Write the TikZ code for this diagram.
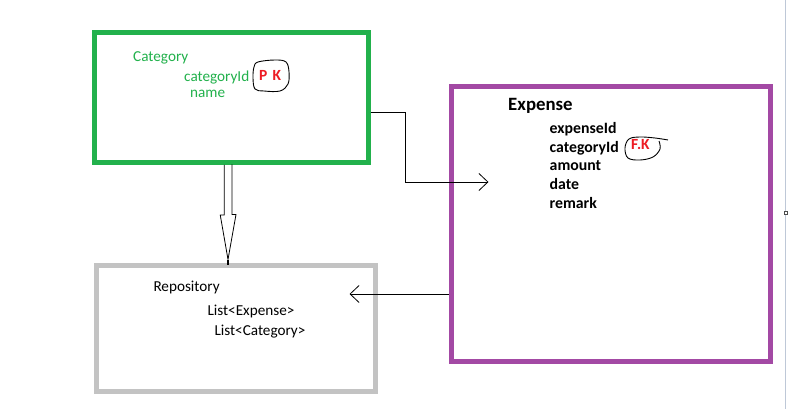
\documentclass[tikz,border=0pt]{standalone}
\usepackage{fontspec}
\setmainfont{Carlito}
\usetikzlibrary{arrows.meta,positioning}
\definecolor{paintgreen}{RGB}{34,177,76}
\definecolor{paintpurple}{RGB}{163,73,164}
\definecolor{paintgray}{RGB}{195,195,195}
\definecolor{paintred}{RGB}{237,28,36}
\definecolor{canvasedge}{RGB}{190,200,215}

\begin{document}
\begin{tikzpicture}[
    x=1pt, y=-1pt,
    every node/.style={font=\fontsize{15.2}{18}\selectfont, inner sep=0pt},
    catbox/.style={
      draw=paintgreen, line width=5pt,
      minimum width=273.5pt, minimum height=130pt
    },
    expbox/.style={
      draw=paintpurple, line width=5pt,
      minimum width=319pt, minimum height=275pt
    },
    repobox/.style={
      draw=paintgray, line width=5pt,
      minimum width=279pt, minimum height=126pt
    },
    cattext/.style={text=paintgreen, anchor=base west},
    field/.style={font=\fontsize{15.8}{18}\selectfont\bfseries, anchor=base west},
    keytag/.style={text=paintred, font=\fontsize{15.5}{18}\selectfont\bfseries, anchor=base west},
    repotext/.style={anchor=base west},
    link/.style={-{Straight Barb[length=9pt,width=17pt]}, line width=0.8pt},
    hollow/.style={line width=0.8pt, line join=miter},
    sketch/.style={line width=0.9pt}
  ]

    \useasboundingbox[fill=white] (0,0) rectangle (788,409);

    % boxes
    \node[catbox]  (category) at (231.25,97.5) {};
    \node[expbox]  (expense)  at (610.5,224)   {};
    \node[repobox] (repo)     at (235.5,328)   {};

    % category entity
    \node[cattext] (cattitle) at (133,61.5) {Category};
    \node[cattext] (catid)    at (184,81.5) {categoryId};
    \node[cattext] (catname)  at (190,97.5) {name};
    \node[keytag]  (pk)       at (259,81)   {P\,\,K};
    \draw[sketch] plot[smooth cycle, tension=0.6] coordinates
      {(258,62) (275,60) (286,62) (289,72) (288,84) (280,91) (264,91) (255,89) (253,78) (254,67)};

    % expense entity
    \node[field, font=\fontsize{18.8}{22}\selectfont\bfseries] (exptitle) at (508,110.7) {Expense};
    \foreach \fname [count=\i from 0] in {expenseId,categoryId,amount,date,remark}
      \node[field] (field\i) at (549.5,133.3+18.8*\i) {\fname};
    \node[keytag] (fk) at (631,149.3) {F.K};
    \draw[sketch] plot[smooth, tension=0.6] coordinates
      {(659,141) (660,149) (653,157) (640,160) (628,158) (625,148) (629,139) (640,137) (655,138) (668,140)};

    % repository
    \node[repotext] (repotitle) at (153.3,291.7) {Repository};
    \node[repotext] (explist)   at (207.3,315)   {List<Expense>};
    \node[repotext] (catlist)   at (214.3,335.7) {List<Category>};

    % connectors
    \coordinate (tip) at ([xshift=-7.5pt,yshift=3pt]repo.north);
    \draw[hollow] ([xshift=-7pt]category.south) -- ++(0,50) -- ++(-4,0)
      -- (tip) -- ++(8,-45) -- ++(-4,0) -- ++(0,-50);
    \draw[line width=2pt] (tip) -- ([xshift=-7.5pt,yshift=-2pt]repo.north);

    \draw[link] ([yshift=-14.5pt]category.east) -- ++(35,0)
      |- ([xshift=40pt,yshift=42pt]expense.west);
    \draw[link] ([yshift=-70pt]expense.west) -- ([xshift=-28pt,yshift=34pt]repo.east);

    % canvas edge
    \draw[canvasedge, line width=1.5pt] (785.5,0) -- (785.5,409);
    \draw[black!70, line width=0.5pt, fill=white] (784.5,211.5) rectangle (787.5,214.5);

  \end{tikzpicture}
\end{document}
